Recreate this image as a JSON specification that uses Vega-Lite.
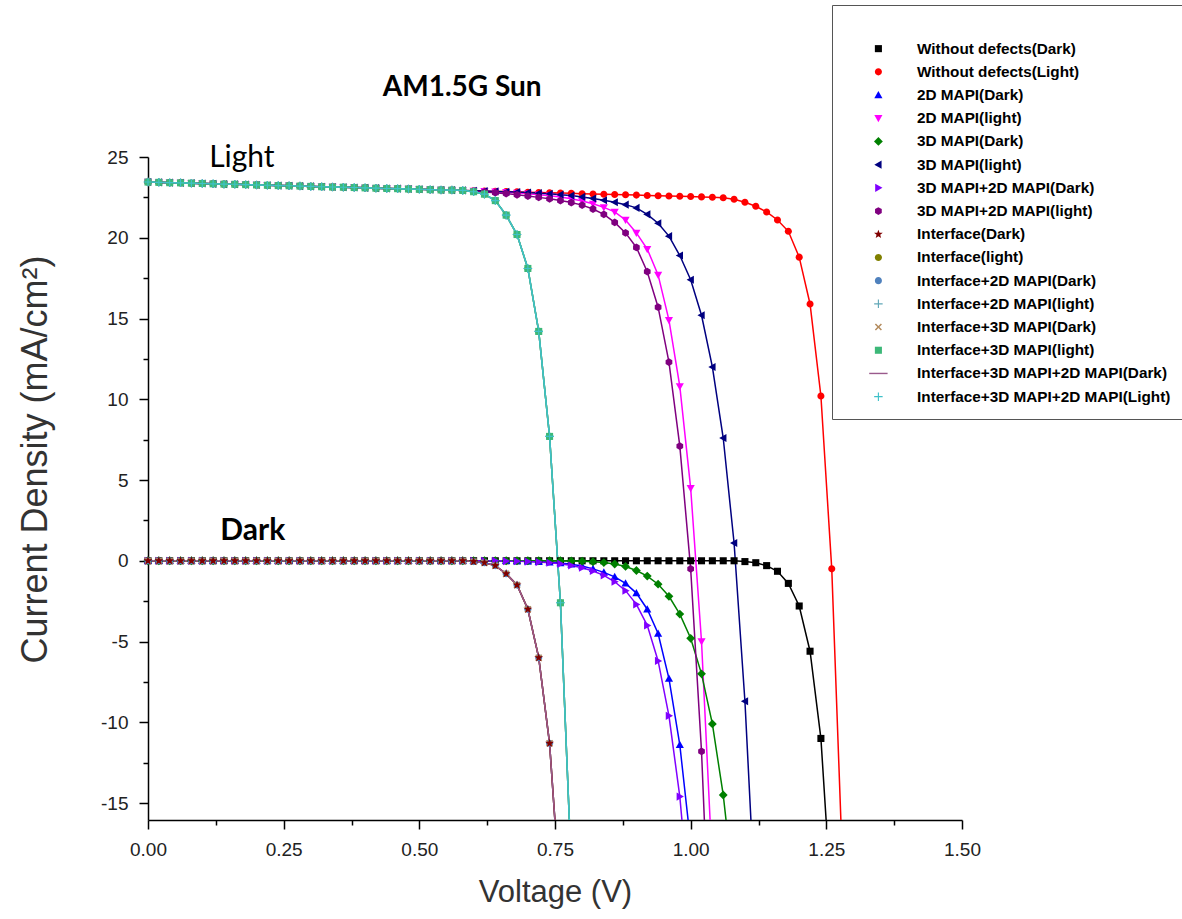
{
"$schema":"https://vega.github.io/schema/vega-lite/v6.json",
"width":814,"height":663,
"autosize":{"type":"none"},
"padding":{"left":148,"top":157,"right":220,"bottom":99},
"background":"white",
"config":{"view":{"stroke":null},"font":"Liberation Sans"},
"datasets":{
"names":[{"k":"a","name":"Without defects(Dark)"},{"k":"b","name":"Without defects(Light)"},{"k":"c","name":"2D MAPI(Dark)"},{"k":"d","name":"2D MAPI(light)"},{"k":"e","name":"3D MAPI(Dark)"},{"k":"f","name":"3D MAPI(light)"},{"k":"g","name":"3D MAPI+2D MAPI(Dark)"},{"k":"h","name":"3D MAPI+2D MAPI(light)"},{"k":"i","name":"Interface(Dark)"},{"k":"j","name":"Interface(light)"},{"k":"k","name":"Interface+2D MAPI(Dark)"},{"k":"l","name":"Interface+2D MAPI(light)"},{"k":"m","name":"Interface+3D MAPI(Dark)"},{"k":"n","name":"Interface+3D MAPI(light)"},{"k":"o","name":"Interface+3D MAPI+2D MAPI(Dark)"},{"k":"p","name":"Interface+3D MAPI+2D MAPI(Light)"}],
"iv":[
{"k":"a","v":0,"j":0},{"k":"a","v":0.02,"j":0},{"k":"a","v":0.04,"j":0},{"k":"a","v":0.06,"j":0},{"k":"a","v":0.08,"j":0},{"k":"a","v":0.1,"j":0},{"k":"a","v":0.12,"j":0},{"k":"a","v":0.14,"j":0},{"k":"a","v":0.16,"j":0},{"k":"a","v":0.18,"j":0},{"k":"a","v":0.2,"j":0},{"k":"a","v":0.22,"j":0},{"k":"a","v":0.24,"j":0},{"k":"a","v":0.26,"j":0},{"k":"a","v":0.28,"j":0},{"k":"a","v":0.3,"j":0},{"k":"a","v":0.32,"j":0},{"k":"a","v":0.34,"j":0},{"k":"a","v":0.36,"j":0},{"k":"a","v":0.38,"j":0},{"k":"a","v":0.4,"j":0},{"k":"a","v":0.42,"j":0},{"k":"a","v":0.44,"j":0},{"k":"a","v":0.46,"j":0},{"k":"a","v":0.48,"j":0},{"k":"a","v":0.5,"j":0},{"k":"a","v":0.52,"j":0},{"k":"a","v":0.54,"j":0},{"k":"a","v":0.56,"j":0},{"k":"a","v":0.58,"j":0},{"k":"a","v":0.6,"j":0},{"k":"a","v":0.62,"j":0},{"k":"a","v":0.64,"j":0},{"k":"a","v":0.66,"j":0},{"k":"a","v":0.68,"j":0},{"k":"a","v":0.7,"j":0},{"k":"a","v":0.72,"j":0},{"k":"a","v":0.74,"j":0},{"k":"a","v":0.76,"j":0},{"k":"a","v":0.78,"j":0},{"k":"a","v":0.8,"j":0},{"k":"a","v":0.82,"j":0},{"k":"a","v":0.84,"j":0},{"k":"a","v":0.86,"j":0},{"k":"a","v":0.88,"j":0},{"k":"a","v":0.9,"j":0},{"k":"a","v":0.92,"j":0},{"k":"a","v":0.94,"j":0},{"k":"a","v":0.96,"j":0},{"k":"a","v":0.98,"j":0},{"k":"a","v":1,"j":0},{"k":"a","v":1.02,"j":0},{"k":"a","v":1.04,"j":0},{"k":"a","v":1.06,"j":0},{"k":"a","v":1.08,"j":0},{"k":"a","v":1.1,"j":-0.05},{"k":"a","v":1.12,"j":-0.12},{"k":"a","v":1.14,"j":-0.3},{"k":"a","v":1.16,"j":-0.65},{"k":"a","v":1.18,"j":-1.4},{"k":"a","v":1.2,"j":-2.8},{"k":"a","v":1.22,"j":-5.6},{"k":"a","v":1.24,"j":-11},{"k":"a","v":1.26,"j":-21.5},
{"k":"b","v":0,"j":23.45},{"k":"b","v":0.02,"j":23.43},{"k":"b","v":0.04,"j":23.41},{"k":"b","v":0.06,"j":23.4},{"k":"b","v":0.08,"j":23.38},{"k":"b","v":0.1,"j":23.36},{"k":"b","v":0.12,"j":23.34},{"k":"b","v":0.14,"j":23.32},{"k":"b","v":0.16,"j":23.31},{"k":"b","v":0.18,"j":23.29},{"k":"b","v":0.2,"j":23.27},{"k":"b","v":0.22,"j":23.25},{"k":"b","v":0.24,"j":23.23},{"k":"b","v":0.26,"j":23.22},{"k":"b","v":0.28,"j":23.2},{"k":"b","v":0.3,"j":23.18},{"k":"b","v":0.32,"j":23.16},{"k":"b","v":0.34,"j":23.14},{"k":"b","v":0.36,"j":23.13},{"k":"b","v":0.38,"j":23.11},{"k":"b","v":0.4,"j":23.09},{"k":"b","v":0.42,"j":23.07},{"k":"b","v":0.44,"j":23.05},{"k":"b","v":0.46,"j":23.04},{"k":"b","v":0.48,"j":23.02},{"k":"b","v":0.5,"j":23},{"k":"b","v":0.52,"j":22.98},{"k":"b","v":0.54,"j":22.96},{"k":"b","v":0.56,"j":22.95},{"k":"b","v":0.58,"j":22.93},{"k":"b","v":0.6,"j":22.91},{"k":"b","v":0.62,"j":22.89},{"k":"b","v":0.64,"j":22.87},{"k":"b","v":0.66,"j":22.86},{"k":"b","v":0.68,"j":22.84},{"k":"b","v":0.7,"j":22.82},{"k":"b","v":0.72,"j":22.8},{"k":"b","v":0.74,"j":22.78},{"k":"b","v":0.76,"j":22.77},{"k":"b","v":0.78,"j":22.75},{"k":"b","v":0.8,"j":22.73},{"k":"b","v":0.82,"j":22.71},{"k":"b","v":0.84,"j":22.69},{"k":"b","v":0.86,"j":22.68},{"k":"b","v":0.88,"j":22.66},{"k":"b","v":0.9,"j":22.64},{"k":"b","v":0.92,"j":22.62},{"k":"b","v":0.94,"j":22.6},{"k":"b","v":0.96,"j":22.59},{"k":"b","v":0.98,"j":22.57},{"k":"b","v":1,"j":22.55},{"k":"b","v":1.02,"j":22.53},{"k":"b","v":1.04,"j":22.51},{"k":"b","v":1.06,"j":22.48},{"k":"b","v":1.08,"j":22.38},{"k":"b","v":1.1,"j":22.2},{"k":"b","v":1.12,"j":21.95},{"k":"b","v":1.14,"j":21.6},{"k":"b","v":1.16,"j":21.1},{"k":"b","v":1.18,"j":20.4},{"k":"b","v":1.2,"j":18.8},{"k":"b","v":1.22,"j":15.9},{"k":"b","v":1.24,"j":10.2},{"k":"b","v":1.26,"j":-0.5},{"k":"b","v":1.28,"j":-19},
{"k":"c","v":0,"j":0},{"k":"c","v":0.02,"j":0},{"k":"c","v":0.04,"j":0},{"k":"c","v":0.06,"j":0},{"k":"c","v":0.08,"j":0},{"k":"c","v":0.1,"j":0},{"k":"c","v":0.12,"j":0},{"k":"c","v":0.14,"j":0},{"k":"c","v":0.16,"j":0},{"k":"c","v":0.18,"j":0},{"k":"c","v":0.2,"j":0},{"k":"c","v":0.22,"j":0},{"k":"c","v":0.24,"j":0},{"k":"c","v":0.26,"j":0},{"k":"c","v":0.28,"j":0},{"k":"c","v":0.3,"j":0},{"k":"c","v":0.32,"j":0},{"k":"c","v":0.34,"j":0},{"k":"c","v":0.36,"j":0},{"k":"c","v":0.38,"j":0},{"k":"c","v":0.4,"j":0},{"k":"c","v":0.42,"j":0},{"k":"c","v":0.44,"j":0},{"k":"c","v":0.46,"j":0},{"k":"c","v":0.48,"j":0},{"k":"c","v":0.5,"j":0},{"k":"c","v":0.52,"j":0},{"k":"c","v":0.54,"j":0},{"k":"c","v":0.56,"j":0},{"k":"c","v":0.58,"j":0},{"k":"c","v":0.6,"j":0},{"k":"c","v":0.62,"j":0},{"k":"c","v":0.64,"j":0},{"k":"c","v":0.66,"j":0},{"k":"c","v":0.68,"j":-0.02},{"k":"c","v":0.7,"j":-0.04},{"k":"c","v":0.72,"j":-0.06},{"k":"c","v":0.74,"j":-0.09},{"k":"c","v":0.76,"j":-0.14},{"k":"c","v":0.78,"j":-0.22},{"k":"c","v":0.8,"j":-0.33},{"k":"c","v":0.82,"j":-0.5},{"k":"c","v":0.84,"j":-0.72},{"k":"c","v":0.86,"j":-1},{"k":"c","v":0.88,"j":-1.4},{"k":"c","v":0.9,"j":-2},{"k":"c","v":0.92,"j":-3},{"k":"c","v":0.94,"j":-4.5},{"k":"c","v":0.96,"j":-7.3},{"k":"c","v":0.98,"j":-11.4},{"k":"c","v":1,"j":-17.5},
{"k":"d","v":0,"j":23.45},{"k":"d","v":0.02,"j":23.43},{"k":"d","v":0.04,"j":23.41},{"k":"d","v":0.06,"j":23.4},{"k":"d","v":0.08,"j":23.38},{"k":"d","v":0.1,"j":23.36},{"k":"d","v":0.12,"j":23.34},{"k":"d","v":0.14,"j":23.32},{"k":"d","v":0.16,"j":23.31},{"k":"d","v":0.18,"j":23.29},{"k":"d","v":0.2,"j":23.27},{"k":"d","v":0.22,"j":23.25},{"k":"d","v":0.24,"j":23.23},{"k":"d","v":0.26,"j":23.22},{"k":"d","v":0.28,"j":23.2},{"k":"d","v":0.3,"j":23.18},{"k":"d","v":0.32,"j":23.16},{"k":"d","v":0.34,"j":23.14},{"k":"d","v":0.36,"j":23.13},{"k":"d","v":0.38,"j":23.11},{"k":"d","v":0.4,"j":23.09},{"k":"d","v":0.42,"j":23.07},{"k":"d","v":0.44,"j":23.05},{"k":"d","v":0.46,"j":23.04},{"k":"d","v":0.48,"j":23.02},{"k":"d","v":0.5,"j":23},{"k":"d","v":0.52,"j":22.98},{"k":"d","v":0.54,"j":22.96},{"k":"d","v":0.56,"j":22.95},{"k":"d","v":0.58,"j":22.93},{"k":"d","v":0.6,"j":22.9},{"k":"d","v":0.62,"j":22.88},{"k":"d","v":0.64,"j":22.85},{"k":"d","v":0.66,"j":22.82},{"k":"d","v":0.68,"j":22.78},{"k":"d","v":0.7,"j":22.73},{"k":"d","v":0.72,"j":22.67},{"k":"d","v":0.74,"j":22.6},{"k":"d","v":0.76,"j":22.52},{"k":"d","v":0.78,"j":22.42},{"k":"d","v":0.8,"j":22.28},{"k":"d","v":0.82,"j":22.1},{"k":"d","v":0.84,"j":21.88},{"k":"d","v":0.86,"j":21.6},{"k":"d","v":0.88,"j":21.1},{"k":"d","v":0.9,"j":20.3},{"k":"d","v":0.92,"j":19.3},{"k":"d","v":0.94,"j":17.7},{"k":"d","v":0.96,"j":14.9},{"k":"d","v":0.98,"j":10.8},{"k":"d","v":1,"j":4.5},{"k":"d","v":1.02,"j":-5},{"k":"d","v":1.04,"j":-19},
{"k":"e","v":0,"j":0},{"k":"e","v":0.02,"j":0},{"k":"e","v":0.04,"j":0},{"k":"e","v":0.06,"j":0},{"k":"e","v":0.08,"j":0},{"k":"e","v":0.1,"j":0},{"k":"e","v":0.12,"j":0},{"k":"e","v":0.14,"j":0},{"k":"e","v":0.16,"j":0},{"k":"e","v":0.18,"j":0},{"k":"e","v":0.2,"j":0},{"k":"e","v":0.22,"j":0},{"k":"e","v":0.24,"j":0},{"k":"e","v":0.26,"j":0},{"k":"e","v":0.28,"j":0},{"k":"e","v":0.3,"j":0},{"k":"e","v":0.32,"j":0},{"k":"e","v":0.34,"j":0},{"k":"e","v":0.36,"j":0},{"k":"e","v":0.38,"j":0},{"k":"e","v":0.4,"j":0},{"k":"e","v":0.42,"j":0},{"k":"e","v":0.44,"j":0},{"k":"e","v":0.46,"j":0},{"k":"e","v":0.48,"j":0},{"k":"e","v":0.5,"j":0},{"k":"e","v":0.52,"j":0},{"k":"e","v":0.54,"j":0},{"k":"e","v":0.56,"j":0},{"k":"e","v":0.58,"j":0},{"k":"e","v":0.6,"j":0},{"k":"e","v":0.62,"j":0},{"k":"e","v":0.64,"j":0},{"k":"e","v":0.66,"j":0},{"k":"e","v":0.68,"j":0},{"k":"e","v":0.7,"j":0},{"k":"e","v":0.72,"j":0},{"k":"e","v":0.74,"j":0},{"k":"e","v":0.76,"j":0},{"k":"e","v":0.78,"j":-0.01},{"k":"e","v":0.8,"j":-0.03},{"k":"e","v":0.82,"j":-0.06},{"k":"e","v":0.84,"j":-0.11},{"k":"e","v":0.86,"j":-0.2},{"k":"e","v":0.88,"j":-0.35},{"k":"e","v":0.9,"j":-0.6},{"k":"e","v":0.92,"j":-0.95},{"k":"e","v":0.94,"j":-1.45},{"k":"e","v":0.96,"j":-2.2},{"k":"e","v":0.98,"j":-3.3},{"k":"e","v":1,"j":-4.8},{"k":"e","v":1.02,"j":-7},{"k":"e","v":1.04,"j":-10.1},{"k":"e","v":1.06,"j":-14.5},{"k":"e","v":1.08,"j":-20.5},
{"k":"f","v":0,"j":23.45},{"k":"f","v":0.02,"j":23.43},{"k":"f","v":0.04,"j":23.41},{"k":"f","v":0.06,"j":23.4},{"k":"f","v":0.08,"j":23.38},{"k":"f","v":0.1,"j":23.36},{"k":"f","v":0.12,"j":23.34},{"k":"f","v":0.14,"j":23.32},{"k":"f","v":0.16,"j":23.31},{"k":"f","v":0.18,"j":23.29},{"k":"f","v":0.2,"j":23.27},{"k":"f","v":0.22,"j":23.25},{"k":"f","v":0.24,"j":23.23},{"k":"f","v":0.26,"j":23.22},{"k":"f","v":0.28,"j":23.2},{"k":"f","v":0.3,"j":23.18},{"k":"f","v":0.32,"j":23.16},{"k":"f","v":0.34,"j":23.14},{"k":"f","v":0.36,"j":23.13},{"k":"f","v":0.38,"j":23.11},{"k":"f","v":0.4,"j":23.09},{"k":"f","v":0.42,"j":23.07},{"k":"f","v":0.44,"j":23.05},{"k":"f","v":0.46,"j":23.04},{"k":"f","v":0.48,"j":23.02},{"k":"f","v":0.5,"j":23},{"k":"f","v":0.52,"j":22.98},{"k":"f","v":0.54,"j":22.96},{"k":"f","v":0.56,"j":22.95},{"k":"f","v":0.58,"j":22.93},{"k":"f","v":0.6,"j":22.91},{"k":"f","v":0.62,"j":22.89},{"k":"f","v":0.64,"j":22.87},{"k":"f","v":0.66,"j":22.85},{"k":"f","v":0.68,"j":22.83},{"k":"f","v":0.7,"j":22.8},{"k":"f","v":0.72,"j":22.76},{"k":"f","v":0.74,"j":22.72},{"k":"f","v":0.76,"j":22.67},{"k":"f","v":0.78,"j":22.61},{"k":"f","v":0.8,"j":22.53},{"k":"f","v":0.82,"j":22.43},{"k":"f","v":0.84,"j":22.32},{"k":"f","v":0.86,"j":22.2},{"k":"f","v":0.88,"j":22.05},{"k":"f","v":0.9,"j":21.85},{"k":"f","v":0.92,"j":21.45},{"k":"f","v":0.94,"j":20.9},{"k":"f","v":0.96,"j":20.1},{"k":"f","v":0.98,"j":18.9},{"k":"f","v":1,"j":17.4},{"k":"f","v":1.02,"j":15.2},{"k":"f","v":1.04,"j":12},{"k":"f","v":1.06,"j":7.6},{"k":"f","v":1.08,"j":1.1},{"k":"f","v":1.1,"j":-8.7},{"k":"f","v":1.12,"j":-22},
{"k":"g","v":0,"j":0},{"k":"g","v":0.02,"j":0},{"k":"g","v":0.04,"j":0},{"k":"g","v":0.06,"j":0},{"k":"g","v":0.08,"j":0},{"k":"g","v":0.1,"j":0},{"k":"g","v":0.12,"j":0},{"k":"g","v":0.14,"j":0},{"k":"g","v":0.16,"j":0},{"k":"g","v":0.18,"j":0},{"k":"g","v":0.2,"j":0},{"k":"g","v":0.22,"j":0},{"k":"g","v":0.24,"j":0},{"k":"g","v":0.26,"j":0},{"k":"g","v":0.28,"j":0},{"k":"g","v":0.3,"j":0},{"k":"g","v":0.32,"j":0},{"k":"g","v":0.34,"j":0},{"k":"g","v":0.36,"j":0},{"k":"g","v":0.38,"j":0},{"k":"g","v":0.4,"j":0},{"k":"g","v":0.42,"j":0},{"k":"g","v":0.44,"j":0},{"k":"g","v":0.46,"j":0},{"k":"g","v":0.48,"j":0},{"k":"g","v":0.5,"j":0},{"k":"g","v":0.52,"j":0},{"k":"g","v":0.54,"j":0},{"k":"g","v":0.56,"j":0},{"k":"g","v":0.58,"j":0},{"k":"g","v":0.6,"j":0},{"k":"g","v":0.62,"j":0},{"k":"g","v":0.64,"j":0},{"k":"g","v":0.66,"j":-0.02},{"k":"g","v":0.68,"j":-0.03},{"k":"g","v":0.7,"j":-0.05},{"k":"g","v":0.72,"j":-0.08},{"k":"g","v":0.74,"j":-0.12},{"k":"g","v":0.76,"j":-0.19},{"k":"g","v":0.78,"j":-0.29},{"k":"g","v":0.8,"j":-0.43},{"k":"g","v":0.82,"j":-0.63},{"k":"g","v":0.84,"j":-0.9},{"k":"g","v":0.86,"j":-1.3},{"k":"g","v":0.88,"j":-1.85},{"k":"g","v":0.9,"j":-2.7},{"k":"g","v":0.92,"j":-4},{"k":"g","v":0.94,"j":-6.2},{"k":"g","v":0.96,"j":-9.6},{"k":"g","v":0.98,"j":-14.6},{"k":"g","v":1,"j":-22},
{"k":"h","v":0,"j":23.45},{"k":"h","v":0.02,"j":23.43},{"k":"h","v":0.04,"j":23.41},{"k":"h","v":0.06,"j":23.4},{"k":"h","v":0.08,"j":23.38},{"k":"h","v":0.1,"j":23.36},{"k":"h","v":0.12,"j":23.34},{"k":"h","v":0.14,"j":23.32},{"k":"h","v":0.16,"j":23.31},{"k":"h","v":0.18,"j":23.29},{"k":"h","v":0.2,"j":23.27},{"k":"h","v":0.22,"j":23.25},{"k":"h","v":0.24,"j":23.23},{"k":"h","v":0.26,"j":23.22},{"k":"h","v":0.28,"j":23.2},{"k":"h","v":0.3,"j":23.18},{"k":"h","v":0.32,"j":23.16},{"k":"h","v":0.34,"j":23.14},{"k":"h","v":0.36,"j":23.13},{"k":"h","v":0.38,"j":23.11},{"k":"h","v":0.4,"j":23.09},{"k":"h","v":0.42,"j":23.07},{"k":"h","v":0.44,"j":23.05},{"k":"h","v":0.46,"j":23.04},{"k":"h","v":0.48,"j":23.02},{"k":"h","v":0.5,"j":23},{"k":"h","v":0.52,"j":22.98},{"k":"h","v":0.54,"j":22.96},{"k":"h","v":0.56,"j":22.95},{"k":"h","v":0.58,"j":22.93},{"k":"h","v":0.6,"j":22.88},{"k":"h","v":0.62,"j":22.84},{"k":"h","v":0.64,"j":22.79},{"k":"h","v":0.66,"j":22.73},{"k":"h","v":0.68,"j":22.66},{"k":"h","v":0.7,"j":22.58},{"k":"h","v":0.72,"j":22.5},{"k":"h","v":0.74,"j":22.41},{"k":"h","v":0.76,"j":22.3},{"k":"h","v":0.78,"j":22.18},{"k":"h","v":0.8,"j":22.02},{"k":"h","v":0.82,"j":21.78},{"k":"h","v":0.84,"j":21.45},{"k":"h","v":0.86,"j":20.95},{"k":"h","v":0.88,"j":20.3},{"k":"h","v":0.9,"j":19.4},{"k":"h","v":0.92,"j":17.9},{"k":"h","v":0.94,"j":15.7},{"k":"h","v":0.96,"j":12.3},{"k":"h","v":0.98,"j":7.1},{"k":"h","v":1,"j":-0.5},{"k":"h","v":1.02,"j":-11.8},{"k":"h","v":1.04,"j":-28},
{"k":"k","v":0,"j":0},{"k":"k","v":0.02,"j":0},{"k":"k","v":0.04,"j":0},{"k":"k","v":0.06,"j":0},{"k":"k","v":0.08,"j":0},{"k":"k","v":0.1,"j":0},{"k":"k","v":0.12,"j":0},{"k":"k","v":0.14,"j":0},{"k":"k","v":0.16,"j":0},{"k":"k","v":0.18,"j":0},{"k":"k","v":0.2,"j":0},{"k":"k","v":0.22,"j":0},{"k":"k","v":0.24,"j":0},{"k":"k","v":0.26,"j":0},{"k":"k","v":0.28,"j":0},{"k":"k","v":0.3,"j":0},{"k":"k","v":0.32,"j":0},{"k":"k","v":0.34,"j":0},{"k":"k","v":0.36,"j":0},{"k":"k","v":0.38,"j":0},{"k":"k","v":0.4,"j":0},{"k":"k","v":0.42,"j":0},{"k":"k","v":0.44,"j":0},{"k":"k","v":0.46,"j":0},{"k":"k","v":0.48,"j":0},{"k":"k","v":0.5,"j":0},{"k":"k","v":0.52,"j":0},{"k":"k","v":0.54,"j":0},{"k":"k","v":0.56,"j":0},{"k":"k","v":0.58,"j":0},{"k":"k","v":0.6,"j":-0.05},{"k":"k","v":0.62,"j":-0.12},{"k":"k","v":0.64,"j":-0.3},{"k":"k","v":0.66,"j":-0.8},{"k":"k","v":0.68,"j":-1.5},{"k":"k","v":0.7,"j":-3},{"k":"k","v":0.72,"j":-6},{"k":"k","v":0.74,"j":-11.3},{"k":"k","v":0.76,"j":-21},
{"k":"m","v":0,"j":0},{"k":"m","v":0.02,"j":0},{"k":"m","v":0.04,"j":0},{"k":"m","v":0.06,"j":0},{"k":"m","v":0.08,"j":0},{"k":"m","v":0.1,"j":0},{"k":"m","v":0.12,"j":0},{"k":"m","v":0.14,"j":0},{"k":"m","v":0.16,"j":0},{"k":"m","v":0.18,"j":0},{"k":"m","v":0.2,"j":0},{"k":"m","v":0.22,"j":0},{"k":"m","v":0.24,"j":0},{"k":"m","v":0.26,"j":0},{"k":"m","v":0.28,"j":0},{"k":"m","v":0.3,"j":0},{"k":"m","v":0.32,"j":0},{"k":"m","v":0.34,"j":0},{"k":"m","v":0.36,"j":0},{"k":"m","v":0.38,"j":0},{"k":"m","v":0.4,"j":0},{"k":"m","v":0.42,"j":0},{"k":"m","v":0.44,"j":0},{"k":"m","v":0.46,"j":0},{"k":"m","v":0.48,"j":0},{"k":"m","v":0.5,"j":0},{"k":"m","v":0.52,"j":0},{"k":"m","v":0.54,"j":0},{"k":"m","v":0.56,"j":0},{"k":"m","v":0.58,"j":0},{"k":"m","v":0.6,"j":-0.05},{"k":"m","v":0.62,"j":-0.12},{"k":"m","v":0.64,"j":-0.3},{"k":"m","v":0.66,"j":-0.8},{"k":"m","v":0.68,"j":-1.5},{"k":"m","v":0.7,"j":-3},{"k":"m","v":0.72,"j":-6},{"k":"m","v":0.74,"j":-11.3},{"k":"m","v":0.76,"j":-21},
{"k":"i","v":0,"j":0},{"k":"i","v":0.02,"j":0},{"k":"i","v":0.04,"j":0},{"k":"i","v":0.06,"j":0},{"k":"i","v":0.08,"j":0},{"k":"i","v":0.1,"j":0},{"k":"i","v":0.12,"j":0},{"k":"i","v":0.14,"j":0},{"k":"i","v":0.16,"j":0},{"k":"i","v":0.18,"j":0},{"k":"i","v":0.2,"j":0},{"k":"i","v":0.22,"j":0},{"k":"i","v":0.24,"j":0},{"k":"i","v":0.26,"j":0},{"k":"i","v":0.28,"j":0},{"k":"i","v":0.3,"j":0},{"k":"i","v":0.32,"j":0},{"k":"i","v":0.34,"j":0},{"k":"i","v":0.36,"j":0},{"k":"i","v":0.38,"j":0},{"k":"i","v":0.4,"j":0},{"k":"i","v":0.42,"j":0},{"k":"i","v":0.44,"j":0},{"k":"i","v":0.46,"j":0},{"k":"i","v":0.48,"j":0},{"k":"i","v":0.5,"j":0},{"k":"i","v":0.52,"j":0},{"k":"i","v":0.54,"j":0},{"k":"i","v":0.56,"j":0},{"k":"i","v":0.58,"j":0},{"k":"i","v":0.6,"j":-0.05},{"k":"i","v":0.62,"j":-0.12},{"k":"i","v":0.64,"j":-0.3},{"k":"i","v":0.66,"j":-0.8},{"k":"i","v":0.68,"j":-1.5},{"k":"i","v":0.7,"j":-3},{"k":"i","v":0.72,"j":-6},{"k":"i","v":0.74,"j":-11.3},{"k":"i","v":0.76,"j":-21},
{"k":"o","v":0,"j":0},{"k":"o","v":0.02,"j":0},{"k":"o","v":0.04,"j":0},{"k":"o","v":0.06,"j":0},{"k":"o","v":0.08,"j":0},{"k":"o","v":0.1,"j":0},{"k":"o","v":0.12,"j":0},{"k":"o","v":0.14,"j":0},{"k":"o","v":0.16,"j":0},{"k":"o","v":0.18,"j":0},{"k":"o","v":0.2,"j":0},{"k":"o","v":0.22,"j":0},{"k":"o","v":0.24,"j":0},{"k":"o","v":0.26,"j":0},{"k":"o","v":0.28,"j":0},{"k":"o","v":0.3,"j":0},{"k":"o","v":0.32,"j":0},{"k":"o","v":0.34,"j":0},{"k":"o","v":0.36,"j":0},{"k":"o","v":0.38,"j":0},{"k":"o","v":0.4,"j":0},{"k":"o","v":0.42,"j":0},{"k":"o","v":0.44,"j":0},{"k":"o","v":0.46,"j":0},{"k":"o","v":0.48,"j":0},{"k":"o","v":0.5,"j":0},{"k":"o","v":0.52,"j":0},{"k":"o","v":0.54,"j":0},{"k":"o","v":0.56,"j":0},{"k":"o","v":0.58,"j":0},{"k":"o","v":0.6,"j":-0.05},{"k":"o","v":0.62,"j":-0.12},{"k":"o","v":0.64,"j":-0.3},{"k":"o","v":0.66,"j":-0.8},{"k":"o","v":0.68,"j":-1.5},{"k":"o","v":0.7,"j":-3},{"k":"o","v":0.72,"j":-6},{"k":"o","v":0.74,"j":-11.3},{"k":"o","v":0.76,"j":-21},
{"k":"j","v":0,"j":23.45},{"k":"j","v":0.02,"j":23.43},{"k":"j","v":0.04,"j":23.41},{"k":"j","v":0.06,"j":23.4},{"k":"j","v":0.08,"j":23.38},{"k":"j","v":0.1,"j":23.36},{"k":"j","v":0.12,"j":23.34},{"k":"j","v":0.14,"j":23.32},{"k":"j","v":0.16,"j":23.31},{"k":"j","v":0.18,"j":23.29},{"k":"j","v":0.2,"j":23.27},{"k":"j","v":0.22,"j":23.25},{"k":"j","v":0.24,"j":23.23},{"k":"j","v":0.26,"j":23.22},{"k":"j","v":0.28,"j":23.2},{"k":"j","v":0.3,"j":23.18},{"k":"j","v":0.32,"j":23.16},{"k":"j","v":0.34,"j":23.14},{"k":"j","v":0.36,"j":23.13},{"k":"j","v":0.38,"j":23.11},{"k":"j","v":0.4,"j":23.09},{"k":"j","v":0.42,"j":23.07},{"k":"j","v":0.44,"j":23.05},{"k":"j","v":0.46,"j":23.04},{"k":"j","v":0.48,"j":23.02},{"k":"j","v":0.5,"j":23},{"k":"j","v":0.52,"j":22.98},{"k":"j","v":0.54,"j":22.96},{"k":"j","v":0.56,"j":22.95},{"k":"j","v":0.58,"j":22.93},{"k":"j","v":0.6,"j":22.85},{"k":"j","v":0.62,"j":22.7},{"k":"j","v":0.64,"j":22.3},{"k":"j","v":0.66,"j":21.4},{"k":"j","v":0.68,"j":20.2},{"k":"j","v":0.7,"j":18.1},{"k":"j","v":0.72,"j":14.2},{"k":"j","v":0.74,"j":7.7},{"k":"j","v":0.76,"j":-2.6},{"k":"j","v":0.78,"j":-19},
{"k":"l","v":0,"j":23.45},{"k":"l","v":0.02,"j":23.43},{"k":"l","v":0.04,"j":23.41},{"k":"l","v":0.06,"j":23.4},{"k":"l","v":0.08,"j":23.38},{"k":"l","v":0.1,"j":23.36},{"k":"l","v":0.12,"j":23.34},{"k":"l","v":0.14,"j":23.32},{"k":"l","v":0.16,"j":23.31},{"k":"l","v":0.18,"j":23.29},{"k":"l","v":0.2,"j":23.27},{"k":"l","v":0.22,"j":23.25},{"k":"l","v":0.24,"j":23.23},{"k":"l","v":0.26,"j":23.22},{"k":"l","v":0.28,"j":23.2},{"k":"l","v":0.3,"j":23.18},{"k":"l","v":0.32,"j":23.16},{"k":"l","v":0.34,"j":23.14},{"k":"l","v":0.36,"j":23.13},{"k":"l","v":0.38,"j":23.11},{"k":"l","v":0.4,"j":23.09},{"k":"l","v":0.42,"j":23.07},{"k":"l","v":0.44,"j":23.05},{"k":"l","v":0.46,"j":23.04},{"k":"l","v":0.48,"j":23.02},{"k":"l","v":0.5,"j":23},{"k":"l","v":0.52,"j":22.98},{"k":"l","v":0.54,"j":22.96},{"k":"l","v":0.56,"j":22.95},{"k":"l","v":0.58,"j":22.93},{"k":"l","v":0.6,"j":22.85},{"k":"l","v":0.62,"j":22.7},{"k":"l","v":0.64,"j":22.3},{"k":"l","v":0.66,"j":21.4},{"k":"l","v":0.68,"j":20.2},{"k":"l","v":0.7,"j":18.1},{"k":"l","v":0.72,"j":14.2},{"k":"l","v":0.74,"j":7.7},{"k":"l","v":0.76,"j":-2.6},{"k":"l","v":0.78,"j":-19},
{"k":"n","v":0,"j":23.45},{"k":"n","v":0.02,"j":23.43},{"k":"n","v":0.04,"j":23.41},{"k":"n","v":0.06,"j":23.4},{"k":"n","v":0.08,"j":23.38},{"k":"n","v":0.1,"j":23.36},{"k":"n","v":0.12,"j":23.34},{"k":"n","v":0.14,"j":23.32},{"k":"n","v":0.16,"j":23.31},{"k":"n","v":0.18,"j":23.29},{"k":"n","v":0.2,"j":23.27},{"k":"n","v":0.22,"j":23.25},{"k":"n","v":0.24,"j":23.23},{"k":"n","v":0.26,"j":23.22},{"k":"n","v":0.28,"j":23.2},{"k":"n","v":0.3,"j":23.18},{"k":"n","v":0.32,"j":23.16},{"k":"n","v":0.34,"j":23.14},{"k":"n","v":0.36,"j":23.13},{"k":"n","v":0.38,"j":23.11},{"k":"n","v":0.4,"j":23.09},{"k":"n","v":0.42,"j":23.07},{"k":"n","v":0.44,"j":23.05},{"k":"n","v":0.46,"j":23.04},{"k":"n","v":0.48,"j":23.02},{"k":"n","v":0.5,"j":23},{"k":"n","v":0.52,"j":22.98},{"k":"n","v":0.54,"j":22.96},{"k":"n","v":0.56,"j":22.95},{"k":"n","v":0.58,"j":22.93},{"k":"n","v":0.6,"j":22.85},{"k":"n","v":0.62,"j":22.7},{"k":"n","v":0.64,"j":22.3},{"k":"n","v":0.66,"j":21.4},{"k":"n","v":0.68,"j":20.2},{"k":"n","v":0.7,"j":18.1},{"k":"n","v":0.72,"j":14.2},{"k":"n","v":0.74,"j":7.7},{"k":"n","v":0.76,"j":-2.6},{"k":"n","v":0.78,"j":-19},
{"k":"p","v":0,"j":23.45},{"k":"p","v":0.02,"j":23.43},{"k":"p","v":0.04,"j":23.41},{"k":"p","v":0.06,"j":23.4},{"k":"p","v":0.08,"j":23.38},{"k":"p","v":0.1,"j":23.36},{"k":"p","v":0.12,"j":23.34},{"k":"p","v":0.14,"j":23.32},{"k":"p","v":0.16,"j":23.31},{"k":"p","v":0.18,"j":23.29},{"k":"p","v":0.2,"j":23.27},{"k":"p","v":0.22,"j":23.25},{"k":"p","v":0.24,"j":23.23},{"k":"p","v":0.26,"j":23.22},{"k":"p","v":0.28,"j":23.2},{"k":"p","v":0.3,"j":23.18},{"k":"p","v":0.32,"j":23.16},{"k":"p","v":0.34,"j":23.14},{"k":"p","v":0.36,"j":23.13},{"k":"p","v":0.38,"j":23.11},{"k":"p","v":0.4,"j":23.09},{"k":"p","v":0.42,"j":23.07},{"k":"p","v":0.44,"j":23.05},{"k":"p","v":0.46,"j":23.04},{"k":"p","v":0.48,"j":23.02},{"k":"p","v":0.5,"j":23},{"k":"p","v":0.52,"j":22.98},{"k":"p","v":0.54,"j":22.96},{"k":"p","v":0.56,"j":22.95},{"k":"p","v":0.58,"j":22.93},{"k":"p","v":0.6,"j":22.85},{"k":"p","v":0.62,"j":22.7},{"k":"p","v":0.64,"j":22.3},{"k":"p","v":0.66,"j":21.4},{"k":"p","v":0.68,"j":20.2},{"k":"p","v":0.7,"j":18.1},{"k":"p","v":0.72,"j":14.2},{"k":"p","v":0.74,"j":7.7},{"k":"p","v":0.76,"j":-2.6},{"k":"p","v":0.78,"j":-19}
]},
"layer":[
{"data":{"name":"iv"},
 "transform":[{"lookup":"k","from":{"data":{"name":"names"},"key":"k","fields":["name"]}}],
 "layer":[
 {"mark":{"type":"line","strokeWidth":1.5,"clip":true},
  "encoding":{
   "x":{"field":"v","type":"quantitative","scale":{"domain":[0,1.5],"nice":false,"zero":false},
    "axis":{"values":[0,0.125,0.25,0.375,0.5,0.625,0.75,0.875,1,1.125,1.25,1.375,1.5],
     "labelExpr":"(datum.value*4) % 1 === 0 ? format(datum.value, '.2f') : ''",
     "tickSize":{"condition":{"test":"(datum.value*4) % 1 !== 0","value":5},"value":9},
     "title":"Voltage (V)","titleFontSize":31,"titleFontWeight":"normal","titleColor":"#333","titlePadding":18,
     "labelFontSize":19,"labelColor":"#222","labelPadding":11,"labelFlush":false,"labelOverlap":false,
     "domainColor":"black","domainWidth":1.5,"tickColor":"black","tickWidth":1.5,"grid":false}},
   "y":{"field":"j","type":"quantitative","scale":{"domain":[-16.05,25],"nice":false,"zero":false},
    "axis":{"values":[-15,-12.5,-10,-7.5,-5,-2.5,0,2.5,5,7.5,10,12.5,15,17.5,20,22.5,25],
     "labelExpr":"datum.value % 5 === 0 ? '' + datum.value : ''",
     "tickSize":{"condition":{"test":"datum.value % 5 !== 0","value":5},"value":9},
     "title":"Current Density (mA/cm²)","titleFontSize":36,"titleFontWeight":"normal","titleColor":"#333","titlePadding":46,"titleY":302,
     "labelFontSize":19,"labelColor":"#222","labelPadding":11,"labelOverlap":false,
     "domainColor":"black","domainWidth":1.5,"tickColor":"black","tickWidth":1.5,"grid":false}},
   "color":{"field":"name","type":"nominal",
    "scale":{"domain":["Without defects(Dark)","Without defects(Light)","2D MAPI(Dark)","2D MAPI(light)","3D MAPI(Dark)","3D MAPI(light)","3D MAPI+2D MAPI(Dark)","3D MAPI+2D MAPI(light)","Interface(Dark)","Interface(light)","Interface+2D MAPI(Dark)","Interface+2D MAPI(light)","Interface+3D MAPI(Dark)","Interface+3D MAPI(light)","Interface+3D MAPI+2D MAPI(Dark)","Interface+3D MAPI+2D MAPI(Light)"],
     "range":["#000000","#FF0000","#0000FF","#FF00FF","#008000","#000080","#8000FF","#800080","#800000","#808000","#4F81BD","#62A8B8","#B38B5D","#3CB878","#9A5A8C","#3FC1C9"]}}
  }},
 {"transform":[{"filter":"datum.j >= -16.1 && datum.k !== 'o'"}],
  "mark":{"type":"point","filled":true,"size":50,"opacity":1,"strokeWidth":0},
  "encoding":{
   "x":{"field":"v","type":"quantitative"},
   "y":{"field":"j","type":"quantitative"},
   "color":{"field":"name","type":"nominal",
    "legend":{"orient":"none","legendX":684,"legendY":-152,"title":" ","titleFontSize":8,"titlePadding":14,
     "padding":14,"strokeColor":"#555","fillColor":"white",
     "labelFont":"Liberation Sans","labelFontWeight":"bold","labelFontSize":15.3,"labelColor":"black","labelLimit":400,
     "symbolSize":50,"symbolOffset":24.75,"labelOffset":31,"rowPadding":7.2,"symbolStrokeWidth":0,"symbolOpacity":1}},
   "shape":{"field":"name","type":"nominal",
    "legend":{"orient":"none","legendX":684,"legendY":-152,"title":" ","titleFontSize":8,"titlePadding":14,
     "padding":14,"strokeColor":"#555","fillColor":"white",
     "labelFont":"Liberation Sans","labelFontWeight":"bold","labelFontSize":15.3,"labelColor":"black","labelLimit":400,
     "symbolSize":50,"symbolOffset":24.75,"labelOffset":31,"rowPadding":7.2,"symbolStrokeWidth":0,"symbolOpacity":1},
    "scale":{"domain":["Without defects(Dark)","Without defects(Light)","2D MAPI(Dark)","2D MAPI(light)","3D MAPI(Dark)","3D MAPI(light)","3D MAPI+2D MAPI(Dark)","3D MAPI+2D MAPI(light)","Interface(Dark)","Interface(light)","Interface+2D MAPI(Dark)","Interface+2D MAPI(light)","Interface+3D MAPI(Dark)","Interface+3D MAPI(light)","Interface+3D MAPI+2D MAPI(Dark)","Interface+3D MAPI+2D MAPI(Light)"],
     "range":["M-1,-1H1V1H-1Z","M-1,0A1,1 0 1,1 1,0A1,1 0 1,1 -1,0Z","M0,-1.15L1.15,0.9H-1.15Z","M0,1.15L-1.15,-0.9H1.15Z","M0,-1.25L1.25,0L0,1.25L-1.25,0Z","M-1.15,0L0.9,-1.15V1.15Z","M1.15,0L-0.9,1.15V-1.15Z","M0,-1.1L0.95,-0.55V0.55L0,1.1L-0.95,0.55V-0.55Z","M0,-1.3L0.32,-0.44L1.24,-0.4L0.52,0.17L0.76,1.05L0,0.54L-0.76,1.05L-0.52,0.17L-1.24,-0.4L-0.32,-0.44Z","M-1,0A1,1 0 1,1 1,0A1,1 0 1,1 -1,0Z","M-1,0A1,1 0 1,1 1,0A1,1 0 1,1 -1,0Z","M-1.2,-0.16H-0.16V-1.2H0.16V-0.16H1.2V0.16H0.16V1.2H-0.16V0.16H-1.2Z","M-1,-0.7L-0.7,-1L0,-0.3L0.7,-1L1,-0.7L0.3,0L1,0.7L0.7,1L0,0.3L-0.7,1L-1,0.7L-0.3,0Z","M-1,-1H1V1H-1Z","M-2.6,-0.2H2.6V0.2H-2.6Z","M-1.2,-0.16H-0.16V-1.2H0.16V-0.16H1.2V0.16H0.16V1.2H-0.16V0.16H-1.2Z"]}}
  }}
 ]},
{"data":{"values":[{}]},
 "mark":{"type":"text","text":"AM1.5G Sun","font":"Lato","fontSize":28,"fontWeight":"bold","align":"center","baseline":"middle","color":"black"},
 "encoding":{"x":{"datum":0.579},"y":{"datum":29.27}}},
{"data":{"values":[{}]},
 "mark":{"type":"text","text":"Light","font":"Lato","fontSize":30,"fontWeight":"normal","align":"center","baseline":"middle","color":"black"},
 "encoding":{"x":{"datum":0.173},"y":{"datum":24.94}}},
{"data":{"values":[{}]},
 "mark":{"type":"text","text":"Dark","font":"Lato","fontSize":30,"fontWeight":"bold","align":"center","baseline":"middle","color":"black"},
 "encoding":{"x":{"datum":0.193},"y":{"datum":1.86}}}
]
}
